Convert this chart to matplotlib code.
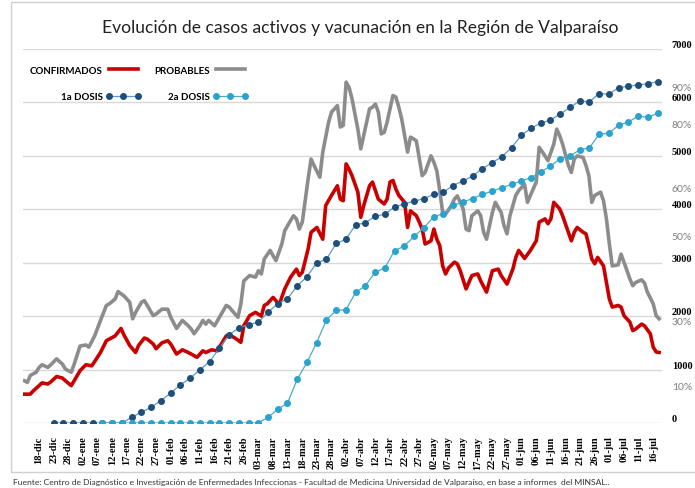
import matplotlib
matplotlib.use('Agg')
import matplotlib.pyplot as plt
import numpy as np
import pandas as pd
from matplotlib.patches import Rectangle
from matplotlib.transforms import ScaledTranslation

inicio = pd.Timestamp('2020-12-18')

# casos activos, dias contados desde el 18-dic
dias_confirmados = [-5, -3, -2, 0, 1, 3, 4, 6, 8, 9,
                    11, 12, 14, 16, 18, 19, 21, 23, 24, 26,
                    28, 29, 31, 33, 34, 36, 37, 39, 40, 42,
                    44, 45, 47, 49, 51, 52, 54, 56, 57, 59,
                    61, 62, 64, 65, 67, 69, 70, 72, 74, 76,
                    77, 78, 80, 81, 82, 84, 86, 88, 89, 90,
                    92, 93, 95, 97, 98, 100, 102, 103, 104, 105,
                    106, 107, 109, 110, 111, 113, 114, 116, 118, 119,
                    120, 121, 122, 123, 125, 126, 127, 129, 130, 131,
                    132, 134, 135, 136, 137, 138, 139, 140, 142, 143,
                    144, 146, 148, 150, 151, 153, 155, 157, 158, 160,
                    162, 163, 164, 166, 168, 170, 171, 173, 174, 175,
                    176, 178, 179, 181, 182, 183, 184, 186, 187, 188,
                    189, 190, 191, 193, 194, 195, 196, 198, 199, 200,
                    202, 203, 204, 206, 207, 209, 210, 211, 212]
confirmados = [540, 540, 600, 700, 750, 730, 770, 870, 840, 790,
               700, 790, 980, 1090, 1070, 1150, 1320, 1540, 1570, 1630,
               1770, 1650, 1450, 1320, 1450, 1590, 1570, 1480, 1390, 1500,
               1540, 1480, 1290, 1370, 1320, 1290, 1230, 1350, 1320, 1370,
               1350, 1450, 1630, 1650, 1590, 1510, 1820, 2010, 2070, 2000,
               2200, 2230, 2350, 2290, 2200, 2510, 2730, 2880, 2760, 2820,
               3260, 3570, 3660, 3440, 4070, 4260, 4440, 4190, 4160, 4850,
               4750, 4630, 4320, 3850, 4070, 4440, 4510, 4190, 4100, 4190,
               4510, 4540, 4380, 4260, 4130, 3660, 3970, 3880, 3760, 3630,
               3350, 3410, 3630, 3440, 3320, 2940, 2790, 2900, 3010, 2980,
               2850, 2510, 2760, 2790, 2660, 2450, 2850, 2880, 2760, 2600,
               2880, 3100, 3230, 3080, 3230, 3410, 3760, 3820, 3730, 3820,
               4130, 4010, 3880, 3570, 3410, 3570, 3660, 3570, 3540, 3320,
               3070, 2980, 3100, 2940, 2630, 2320, 2170, 2200, 2170, 2010,
               1890, 1730, 1760, 1850, 1820, 1670, 1420, 1330, 1320]

dias_probables = [-5, -4, -3, -1, 0, 1, 3, 4, 6, 8,
                  9, 11, 12, 14, 16, 17, 19, 21, 23, 24,
                  26, 27, 29, 31, 32, 33, 35, 36, 37, 39,
                  40, 42, 44, 45, 47, 49, 51, 52, 53, 55,
                  56, 57, 58, 60, 62, 64, 65, 67, 68, 69,
                  70, 72, 74, 75, 76, 77, 79, 80, 81, 83,
                  84, 86, 87, 88, 89, 90, 92, 93, 94, 96,
                  97, 99, 100, 102, 103, 104, 105, 106, 107, 109,
                  110, 111, 113, 114, 115, 116, 117, 118, 119, 121,
                  122, 123, 124, 126, 127, 128, 129, 131, 132, 134,
                  135, 136, 137, 138, 139, 141, 142, 143, 145, 146,
                  147, 148, 150, 151, 152, 153, 155, 156, 158, 159,
                  160, 161, 163, 164, 166, 167, 168, 170, 171, 173,
                  174, 176, 177, 178, 179, 181, 182, 183, 184, 186,
                  187, 188, 189, 190, 192, 193, 194, 195, 196, 198,
                  199, 200, 202, 203, 204, 206, 207, 208, 210, 211,
                  212]
probables = [790, 760, 890, 950, 1040, 1090, 1040, 1090, 1200, 1100,
             1010, 950, 1100, 1440, 1460, 1420, 1630, 1920, 2200, 2230,
             2320, 2460, 2380, 2260, 1950, 2070, 2260, 2290, 2200, 2010,
             2040, 2130, 2130, 1980, 1770, 1920, 1820, 1760, 1670, 1820,
             1920, 1850, 1920, 1820, 2010, 2200, 2170, 2040, 1980, 2230,
             2660, 2760, 2730, 2850, 2790, 3070, 3230, 3130, 3040, 3350,
             3600, 3790, 3880, 3820, 3630, 3760, 4570, 4940, 4820, 4600,
             5070, 5630, 5820, 5940, 5540, 5570, 6380, 6280, 6070, 5500,
             5130, 5380, 5880, 5910, 5970, 5820, 5410, 5440, 5630, 6130,
             6100, 5910, 5690, 5070, 5350, 5320, 5280, 4630, 4690, 5000,
             4880, 4720, 4350, 3940, 3910, 4070, 4190, 4250, 4010, 3630,
             3600, 3880, 3970, 3880, 3570, 3440, 3940, 4130, 3940, 3690,
             3540, 3880, 4260, 4350, 4470, 4130, 4260, 4510, 5160, 5000,
             4910, 5220, 5500, 5380, 5220, 4820, 4690, 4940, 5000, 4970,
             4820, 4630, 4130, 4260, 4320, 4160, 3820, 3350, 2940, 2960,
             3160, 3010, 2700, 2570, 2630, 2680, 2620, 2450, 2230, 2010,
             1950]

# vacunacion (% de la poblacion objetivo), reportes desde el 23-dic
primera_dosis = [0, 0, 0, 0, 0, 0, 0, 0, 1.5, 2.9,
                 4.2, 6.0, 8.0, 10.2, 12.0, 14.2, 16.4, 20.0, 23.6, 25.4,
                 26.3, 26.9, 29.6, 31.9, 33.2, 36.7, 39.1, 42.8, 43.8, 48.0,
                 49.1, 53.0, 53.5, 55.3, 55.8, 57.8, 58.6, 59.3, 60.0, 61.1,
                 61.7, 63.5, 64.7, 66.0, 68.0, 69.6, 71.2, 73.6, 76.9, 78.8,
                 80.2, 81.0, 82.6, 84.4, 86.1, 85.9, 88.1, 87.9, 89.7, 90.0,
                 90.4, 90.7, 91.3]
segunda_dosis = [None, None, None, None, None, 0, 0, 0, 0, 0,
                 0, 0, 0, 0, 0, 0, 0, 0, 0, 0,
                 0, 0, 1.5, 3.7, 5.3, 11.7, 16.2, 21.5, 27.6, 30.1,
                 30.3, 34.9, 36.7, 40.3, 41.5, 46.1, 47.3, 49.9, 52.2, 55.1,
                 56.0, 58.2, 59.1, 60.0, 61.1, 62.0, 62.9, 63.8, 64.7, 65.6,
                 67.1, 68.7, 70.7, 71.4, 73.0, 73.6, 77.2, 77.5, 79.6, 80.5,
                 82.0, 81.8, 82.8]

meses = {12: 'dic', 1: 'ene', 2: 'feb', 3: 'mar', 4: 'abr', 5: 'may', 6: 'jun', 7: 'jul'}
casos_ticks = list(range(0, 7001, 1000))
pct_ticks = [10, 30, 50, 60, 80, 90]

fechas_conf = inicio + pd.to_timedelta(dias_confirmados, unit='D')
fechas_prob = inicio + pd.to_timedelta(dias_probables, unit='D')
fechas_vac = inicio + pd.to_timedelta(np.linspace(5, 211.5, len(primera_dosis)), unit='D')
fechas_ticks = pd.date_range(inicio, '2021-07-16', freq='5D')

W, H = 695, 489
fig = plt.figure(figsize=(W / 100, H / 100), dpi=100)
ax = fig.add_axes([23 / W, 1 - 424 / H, (662 - 23) / W, (424 - 50) / H])

l_conf, = ax.plot(fechas_conf, confirmados, color='#C80000', lw=2.6, label='CONFIRMADOS')
l_prob, = ax.plot(fechas_prob, probables, color='#8C8C8C', lw=2.6, label='PROBABLES')

ax.set_ylim(0, 7000)
ax.set_xlim(inicio - pd.Timedelta(days=5.5), inicio + pd.Timedelta(days=213))
ax.grid(axis='y', color='#D9D9D9', lw=1)
ax.set_axisbelow(True)

ax.set_xticks(fechas_ticks)
ax.set_xticklabels([f'{d.day:02d}-{meses[d.month]}' for d in fechas_ticks],
                   rotation=90, fontweight='bold', family='Liberation Serif')
ax.tick_params(axis='x', length=0, pad=9, labelsize=7.5)

ax2 = ax.twinx()
l_1a, = ax2.plot(fechas_vac, primera_dosis, color='#5B9BD5', lw=0.9, marker='o', ms=4,
                 mfc='#1F4E79', mec='#1F4E79', label='1a DOSIS')
l_2a, = ax2.plot(fechas_vac, np.array(segunda_dosis, dtype=float), color='#4BACC6', lw=0.9,
                 marker='o', ms=4, mfc='#2AA3CF', mec='#2AA3CF', label='2a DOSIS')
ax2.set_ylim(0, 100)
ax2.set_yticks(pct_ticks)
ax2.set_yticklabels([f'{p}%' for p in pct_ticks], color='#7F7F7F', family='Lato')
ax2.tick_params(axis='y', length=0, pad=7, labelsize=7.5)

# twinx moves the counts axis to the left, put it back on the right
ax.yaxis.tick_right()
ax.set_yticks(casos_ticks)
ax.set_yticklabels([str(v) for v in casos_ticks], fontweight='bold', family='Liberation Serif')
ax.tick_params(axis='y', length=0, pad=7, labelsize=7.5, left=False, labelleft=False,
               right=True, labelright=True)

# both label columns share the right margin: nudge them apart like the original
up = ScaledTranslation(0, 4 / 72, fig.dpi_scale_trans)
for lab in ax.get_yticklabels():
    lab.set_transform(lab.get_transform() + up)
nudge = {'30%': -7, '60%': 8}
for lab in ax2.get_yticklabels():
    if lab.get_text() in nudge:
        off = ScaledTranslation(0, nudge[lab.get_text()] / 72, fig.dpi_scale_trans)
        lab.set_transform(lab.get_transform() + off)

for a in (ax, ax2):
    for s in a.spines.values():
        s.set_visible(False)

fig.legend([l_conf, l_1a, l_prob, l_2a], ['CONFIRMADOS', '1a DOSIS', 'PROBABLES', '2a DOSIS'],
           ncol=2, loc='upper left', bbox_to_anchor=(25 / W, 1 - 62 / H), frameon=False,
           markerfirst=False, alignment='right', numpoints=3, handlelength=3.6,
           handletextpad=0.3, columnspacing=1.4, labelspacing=1.8, borderpad=0,
           prop={'family': 'Lato', 'weight': 'bold', 'size': 7})

fig.text(360 / W, 1 - 28 / H, 'Evolución de casos activos y vacunación en la Región de Valparaíso',
         ha='center', va='center', fontsize=12.6, family='Lato', color='#222222')
fig.text(13 / W, 1 - 482 / H,
         'Fuente: Centro de Diagnóstico e Investigación de Enfermedades Infeccionas - Facultad de Medicina '
         'Universidad de Valparaíso, en base a informes  del MINSAL..',
         ha='left', va='center', fontsize=6.1, family='Lato', color='#333333')

fig.patches.append(Rectangle((11 / W, 1 - 473 / H), 1, 470 / H, transform=fig.transFigure,
                             fill=False, ec='#D0D0D0', lw=1))

fig.savefig('out.png', dpi=100)
